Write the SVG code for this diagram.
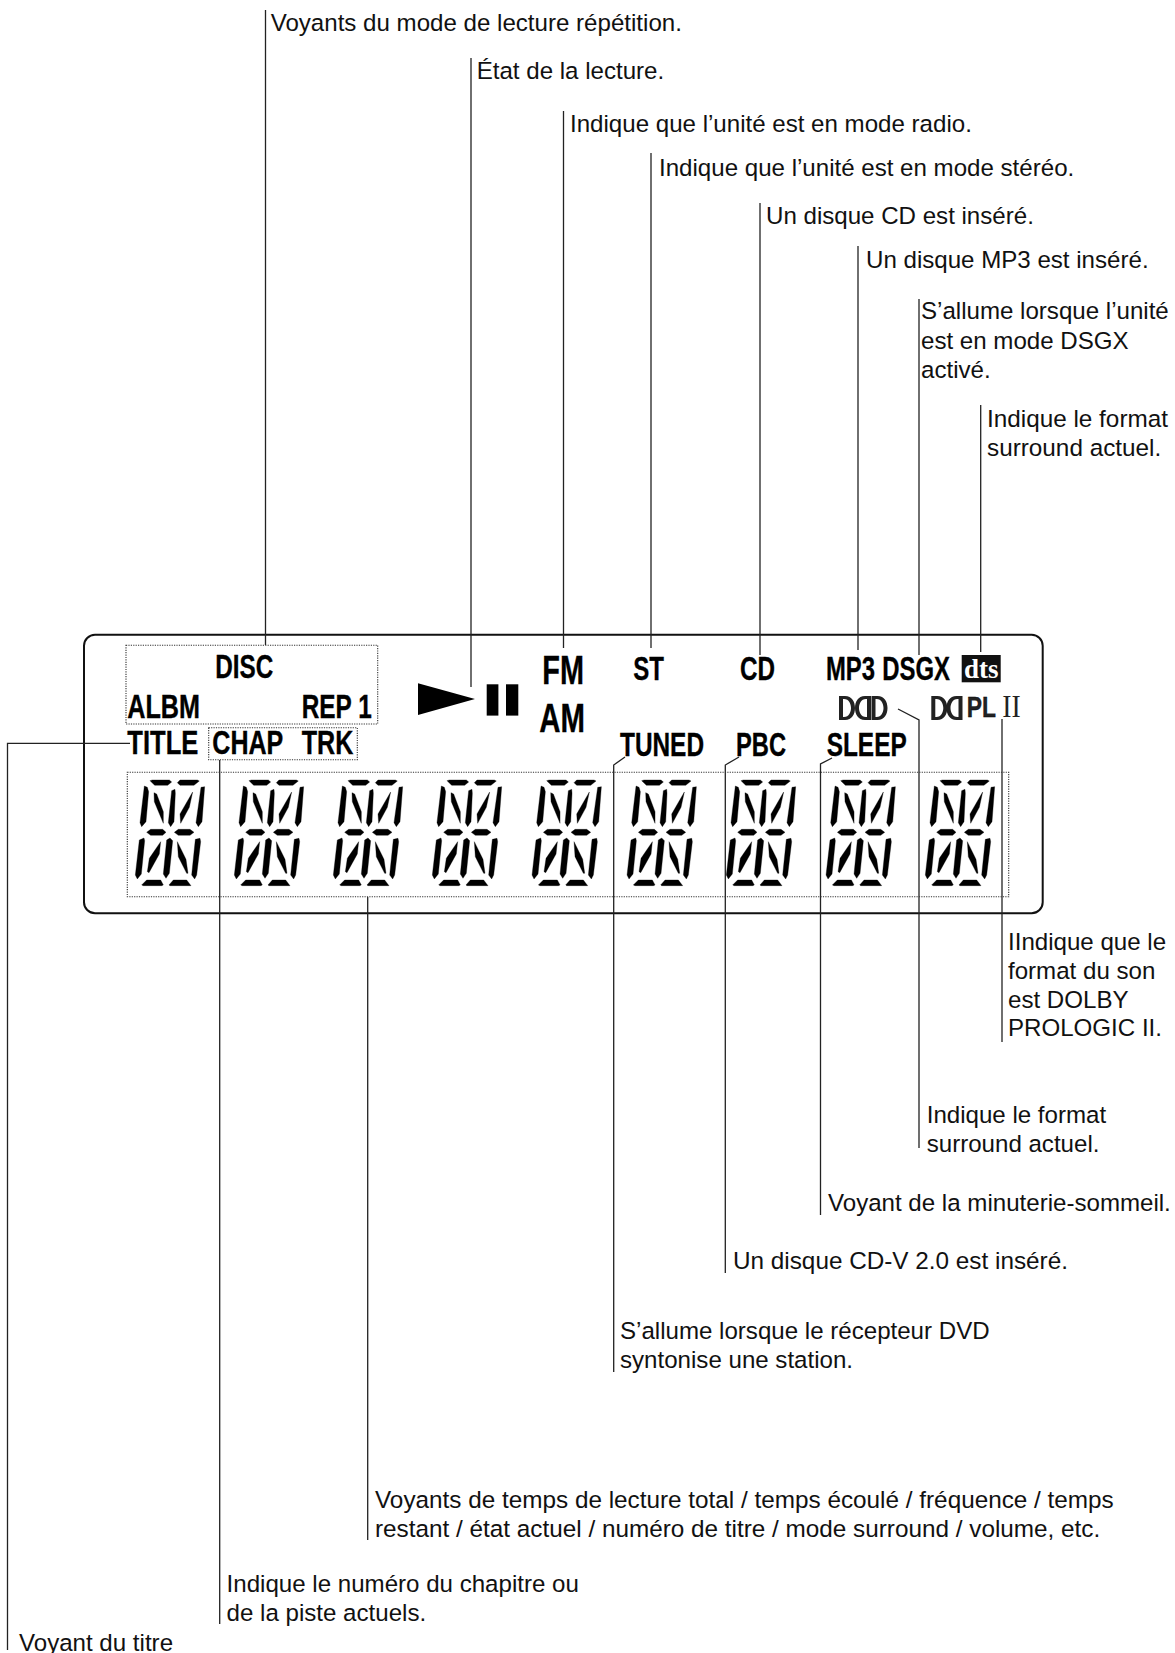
<svg xmlns="http://www.w3.org/2000/svg" xmlns:xlink="http://www.w3.org/1999/xlink" width="1175" height="1653" viewBox="0 0 1175 1653">
<style>
.l{font-family:"Liberation Sans",Arial,sans-serif;font-size:24.1px;fill:#111}
.w{font-size:24.3px}
.b{font-family:"Liberation Sans",Arial,sans-serif;font-weight:700;font-size:33px;fill:#000;stroke:#000;stroke-width:.35}
.big{font-size:41px}
.dot{fill:none;stroke:#333;stroke-width:1.1;stroke-dasharray:1.2 1.2}
.c{fill:none;stroke:#222;stroke-width:1.3}
</style>
<defs>
<g id="digit" transform="scale(0.33333)">
<path stroke="#000" stroke-width="1" stroke-linejoin="round" d="M90 32L97 30H148L155 36L143 46H104ZM172 38L180 30H232L238 33L222 46H180ZM73 48L82 52L86 65L78 155L65 170L60 158ZM102 68L110 72L130 125L130 160L103 95ZM155 62L165 58L166 70L162 155L152 170L145 158ZM218 66L208 112L182 160L180 132ZM243 52L254 50L246 155L235 170L228 158ZM80 187L92 178H128L138 187L128 196H92ZM163 187L175 178H210L222 187L210 196H175ZM58 210L72 204L74 212L64 312L52 327L46 315ZM122 215L118 252L87 308L82 305L88 265ZM140 210L150 204L158 212L148 310L138 325L130 312ZM172 215L198 268L204 310L200 310L175 260ZM226 208L240 205L242 215L230 315L224 327L215 315ZM65 345L80 330H122L130 345L125 347H70ZM147 345L160 330H200L213 347H150Z"/>
</g>
<path id="dd" fill-rule="evenodd" fill="#222" d="M0 0H6C13 0 16 6 16 12C16 18 13 24 6 24H0ZM4 3V21H5C10 21 12 16 12 12C12 8 10 3 5 3Z"/>
</defs>
<rect id="display-frame" x="84" y="634.7" width="958.7" height="278.6" rx="11" fill="none" stroke="#111" stroke-width="2"/>
<g id="connectors">
<path class="c" d="M265.5 10V645"/>
<path class="c" d="M471 58V687"/>
<path class="c" d="M563.5 111V648"/>
<path class="c" d="M651 153V648"/>
<path class="c" d="M760 203V655"/>
<path class="c" d="M858 246V650"/>
<path class="c" d="M919 299V655"/>
<path class="c" d="M980.7 405V652"/>
<path class="c" d="M1002 719V1042"/>
<path class="c" d="M898 709L919 720V1148"/>
<path class="c" d="M832 758L820.5 764V1215"/>
<path class="c" d="M739 757L725.3 765V1273"/>
<path class="c" d="M625 757L613.7 765V1372"/>
<path class="c" d="M367.7 897V1540"/>
<path class="c" d="M219.7 760V1624"/>
<path class="c" d="M130 743.3H7.5V1650"/>
</g>
<g id="group-disc">
<rect class="dot" x="126" y="645.3" width="251.7" height="78.7"/>
<text class="b" x="215.3" y="678.3" textLength="58" lengthAdjust="spacingAndGlyphs">DISC</text>
<text class="b" x="127.3" y="717.7" textLength="72.7" lengthAdjust="spacingAndGlyphs">ALBM</text>
<text class="b" x="301.7" y="717.7" textLength="70" lengthAdjust="spacingAndGlyphs">REP 1</text>
</g>
<g id="title"><text class="b" x="127.3" y="754" textLength="71" lengthAdjust="spacingAndGlyphs">TITLE</text></g>
<g id="group-chap">
<rect class="dot" x="208.7" y="727.7" width="148.6" height="32"/>
<text class="b" x="212.3" y="754" textLength="71" lengthAdjust="spacingAndGlyphs">CHAP</text>
<text class="b" x="301.7" y="754" textLength="51.6" lengthAdjust="spacingAndGlyphs">TRK</text>
</g>
<g id="play-pause">
<path d="M418 683.3L475 699L418 715Z"/>
<rect x="486.7" y="684.3" width="11.7" height="31.3"/>
<rect x="506" y="684.3" width="12.3" height="31.3"/>
</g>
<g id="fm"><text class="b big" x="542.3" y="684.3" textLength="41.7" lengthAdjust="spacingAndGlyphs">FM</text></g>
<g id="am"><text class="b big" x="539.3" y="731.7" textLength="45.7" lengthAdjust="spacingAndGlyphs">AM</text></g>
<g id="st"><text class="b" x="633.3" y="680" textLength="30.7" lengthAdjust="spacingAndGlyphs">ST</text></g>
<g id="cd"><text class="b" x="740" y="680" textLength="35" lengthAdjust="spacingAndGlyphs">CD</text></g>
<g id="mp3"><text class="b" transform="translate(826 680) scale(.722 1)">MP3</text></g>
<g id="dsgx"><text class="b" transform="translate(882.3 680) scale(.724 1)">DSGX</text></g>
<g id="dts">
<rect x="961.7" y="655" width="39" height="27.3" fill="#111"/>
<text x="964" y="678" font-family="'Liberation Serif',serif" font-weight="700" font-size="27" fill="#fff" textLength="34.5" lengthAdjust="spacingAndGlyphs">dts</text>
</g>
<g id="tuned"><text class="b" x="620" y="756" textLength="84" lengthAdjust="spacingAndGlyphs">TUNED</text></g>
<g id="pbc"><text class="b" x="736" y="756" textLength="50" lengthAdjust="spacingAndGlyphs">PBC</text></g>
<g id="sleep"><text class="b" x="826.7" y="756" textLength="80" lengthAdjust="spacingAndGlyphs">SLEEP</text></g>
<g id="dolby-digital">
<use xlink:href="#dd" href="#dd" x="839" y="696"/>
<use xlink:href="#dd" href="#dd" transform="translate(871 696) scale(-1 1)"/>
<use xlink:href="#dd" href="#dd" x="871.5" y="696"/>
</g>
<g id="dolby-pl2">
<use xlink:href="#dd" href="#dd" x="931.3" y="696"/>
<use xlink:href="#dd" href="#dd" transform="translate(962.5 696) scale(-1 1)"/>
<text class="b" x="966.7" y="717.3" style="font-size:30px;fill:#222" textLength="29.3" lengthAdjust="spacingAndGlyphs">PL</text>
<text x="1002.3" y="717.3" font-family="'Liberation Serif',serif" font-size="31" fill="#222" textLength="18.4" lengthAdjust="spacingAndGlyphs">II</text>
</g>
<g id="digits">
<rect class="dot" x="127.3" y="772.3" width="881.4" height="124.4"/>
<use xlink:href="#digit" href="#digit" x="120" y="770"/>
<use xlink:href="#digit" href="#digit" x="219" y="770"/>
<use xlink:href="#digit" href="#digit" x="318" y="770"/>
<use xlink:href="#digit" href="#digit" x="417" y="770"/>
<use xlink:href="#digit" href="#digit" x="516.7" y="770"/>
<use xlink:href="#digit" href="#digit" x="611.7" y="770"/>
<use xlink:href="#digit" href="#digit" x="711" y="770"/>
<use xlink:href="#digit" href="#digit" x="810.7" y="770"/>
<use xlink:href="#digit" href="#digit" x="910" y="770"/>
</g>
<g id="labels">
<text class="l" x="270.7" y="30.5">Voyants du mode de lecture répétition.</text>
<text class="l" x="476.7" y="79.3">État de la lecture.</text>
<text class="l" x="570" y="131.7">Indique que l’unité est en mode radio.</text>
<text class="l" x="659" y="176">Indique que l’unité est en mode stéréo.</text>
<text class="l" x="766" y="224.3">Un disque CD est inséré.</text>
<text class="l" x="866" y="268.3">Un disque MP3 est inséré.</text>
<text class="l" x="921" y="319.3">S’allume lorsque l’unité</text>
<text class="l" x="921" y="348.5">est en mode DSGX</text>
<text class="l" x="921" y="377.5">activé.</text>
<text class="l w" x="987" y="427">Indique le format</text>
<text class="l w" x="987" y="456">surround actuel.</text>
<text class="l" x="1008" y="950">IIndique que le</text>
<text class="l" x="1008" y="979">format du son</text>
<text class="l" x="1008" y="1008">est DOLBY</text>
<text class="l" x="1008" y="1036">PROLOGIC II.</text>
<text class="l" x="926.7" y="1122.7">Indique le format</text>
<text class="l" x="926.7" y="1151.7">surround actuel.</text>
<text class="l" x="828" y="1211">Voyant de la minuterie-sommeil.</text>
<text class="l w" x="733" y="1269">Un disque CD-V 2.0 est inséré.</text>
<text class="l" x="620" y="1339">S’allume lorsque le récepteur DVD</text>
<text class="l" x="620" y="1368">syntonise une station.</text>
<text class="l w" x="375" y="1508">Voyants de temps de lecture total / temps écoulé / fréquence / temps</text>
<text class="l w" x="375" y="1537">restant / état actuel / numéro de titre / mode surround / volume, etc.</text>
<text class="l" x="226.6" y="1592">Indique le numéro du chapitre ou</text>
<text class="l" x="226.6" y="1621">de la piste actuels.</text>
<text class="l" x="19" y="1651">Voyant du titre</text>
</g>
</svg>
